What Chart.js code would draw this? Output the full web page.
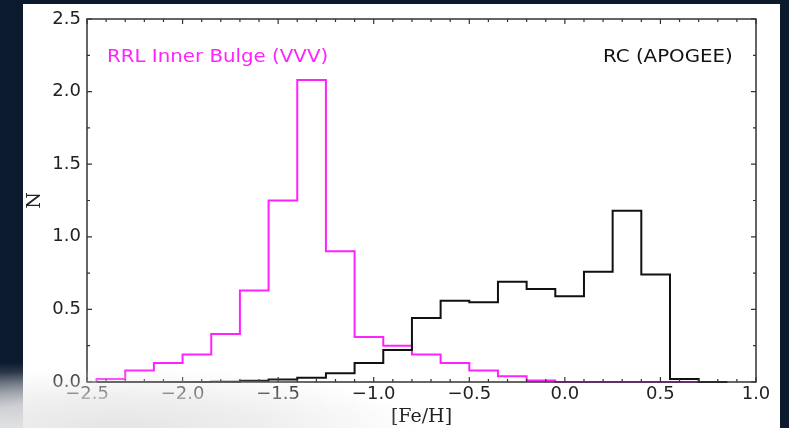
<!DOCTYPE html>
<html>
<head>
<meta charset="utf-8">
<script src="https://cdn.jsdelivr.net/npm/chart.js@4/dist/chart.umd.min.js"></script>
<style>
  html, body { margin: 0; padding: 0; }
  body { width: 789px; height: 428px; background: #0c1a2e; position: relative; overflow: hidden; }
  #strip { position: absolute; left: 0; top: 0; width: 23px; height: 428px;
    background: linear-gradient(to bottom, #0c1a2e 0px, #0c1a2e 362px, #cfd2d6 428px); }
  #panel { position: absolute; left: 23px; top: 4px; width: 757px; height: 424px; background: #ffffff; }
  #grafico { position: absolute; left: 0; top: 0; }
  #velo { position: absolute; left: 0; top: 300px; width: 500px; height: 128px; pointer-events: none;
    background: radial-gradient(ellipse 300px 60px at 120px 100%, rgba(226,226,226,0.9) 0%, rgba(232,232,232,0.7) 50%, rgba(255,255,255,0) 100%); }
</style>
</head>
<body>
<div id="strip"></div>
<div id="panel"></div>
<canvas id="grafico" width="789" height="428"></canvas>
<div id="velo"></div>
<script>
// Bordes de los bins de [Fe/H]
var bordesBins = [-2.45, -2.30, -2.15, -2.00, -1.85, -1.70, -1.55, -1.40, -1.25, -1.10, -0.95,
                  -0.80, -0.65, -0.50, -0.35, -0.20, -0.05, 0.10, 0.25, 0.40, 0.55, 0.70, 0.85];

// Valores de cada bin (histograma normalizado)
var rrlBulbo = [0.02, 0.08, 0.13, 0.19, 0.33, 0.63, 1.25, 2.08, 0.90, 0.31, 0.25,
                0.19, 0.13, 0.08, 0.04, 0.01, 0, 0, 0, 0, 0, 0];
var rcApogee = [0, 0, 0, 0, 0.002, 0.008, 0.017, 0.03, 0.06, 0.13, 0.22,
                0.44, 0.56, 0.55, 0.69, 0.64, 0.59, 0.76, 1.18, 0.74, 0.02, 0];

// Etiquetas de los ejes
var ticksX = [-2.5, -2.0, -1.5, -1.0, -0.5, 0.0, 0.5, 1.0];
var ticksY = [0.0, 0.5, 1.0, 1.5, 2.0, 2.5];

// Convierte un histograma en puntos escalonados
function escalones(valores) {
  var pts = [{ x: bordesBins[0], y: 0 }];
  for (var i = 0; i < valores.length; i++) {
    pts.push({ x: bordesBins[i], y: valores[i] });
  }
  pts.push({ x: bordesBins[bordesBins.length - 1], y: 0 });
  return pts;
}

function etiqueta(v) {
  return v.toFixed(1).replace('-', '\u2212');
}

// Marco, ticks hacia dentro y textos
var marcoPlugin = {
  id: 'marco',
  afterDraw: function (chart) {
    var ctx = chart.ctx;
    var a = chart.chartArea;
    var sx = chart.scales.x, sy = chart.scales.y;
    ctx.save();
    ctx.strokeStyle = '#333333';
    ctx.lineWidth = 1.5;
    ctx.strokeRect(a.left, a.top, a.right - a.left, a.bottom - a.top);
    ctx.lineWidth = 1.2;
    ctx.beginPath();
    for (var k = 0; k <= 35; k++) {
      var v = -2.5 + k * 0.1;
      var px = sx.getPixelForValue(v);
      var len = (k % 5 === 0) ? 5 : 3;
      ctx.moveTo(px, a.bottom); ctx.lineTo(px, a.bottom - len);
      ctx.moveTo(px, a.top); ctx.lineTo(px, a.top + len);
    }
    for (var j = 0; j <= 10; j++) {
      var w = j * 0.25;
      var py = sy.getPixelForValue(w);
      var l2 = (j % 2 === 0) ? 5 : 3;
      ctx.moveTo(a.left, py); ctx.lineTo(a.left + l2, py);
      ctx.moveTo(a.right, py); ctx.lineTo(a.right - l2, py);
    }
    ctx.stroke();

    // Textos de las series
    ctx.textBaseline = 'alphabetic';
    ctx.textAlign = 'left';
    ctx.font = '18px "DejaVu Sans"';
    ctx.fillStyle = '#ff22ff';
    ctx.save();
    ctx.translate(107, 62);
    ctx.scale(1.1, 1);
    ctx.fillText('RRL Inner Bulge (VVV)', 0, 0);
    ctx.restore();
    ctx.fillStyle = '#111111';
    ctx.save();
    ctx.translate(603, 62);
    ctx.scale(1.1, 1);
    ctx.fillText('RC (APOGEE)', 0, 0);
    ctx.restore();

    // Títulos de los ejes
    ctx.font = '19px "DejaVu Serif"';
    ctx.fillStyle = '#222222';
    ctx.textAlign = 'center';
    ctx.textBaseline = 'middle';
    ctx.fillText('[Fe/H]', (a.left + a.right) / 2, 417);
    ctx.save();
    ctx.translate(35, (a.top + a.bottom) / 2);
    ctx.rotate(-Math.PI / 2);
    ctx.fillText('N', 0, 0);
    ctx.restore();
    ctx.restore();
  }
};

var grafico = new Chart(document.getElementById('grafico').getContext('2d'), {
  type: 'line',
  data: {
    datasets: [{
      label: 'RC (APOGEE)',
      data: escalones(rcApogee),
      borderColor: '#111111',
      borderWidth: 2,
      stepped: 'before',
      pointRadius: 0,
      fill: false,
      clip: false
    }, {
      label: 'RRL Inner Bulge (VVV)',
      data: escalones(rrlBulbo),
      borderColor: '#ff22ff',
      borderWidth: 2,
      stepped: 'before',
      pointRadius: 0,
      fill: false,
      clip: false
    }]
  },
  options: {
    responsive: false,
    animation: false,
    devicePixelRatio: 1,
    layout: { padding: { left: 0, top: 19, right: 33, bottom: 0 } },
    plugins: { legend: { display: false }, tooltip: { enabled: false } },
    scales: {
      x: {
        type: 'linear',
        min: -2.5,
        max: 1.0,
        grid: { display: false, drawTicks: false },
        border: { display: false },
        afterBuildTicks: function (s) { s.ticks = ticksX.map(function (v) { return { value: v }; }); },
        afterFit: function (s) { s.height = 46; },
        ticks: {
          padding: 2,
          color: '#222222',
          font: { family: 'DejaVu Sans', size: 18 },
          maxRotation: 0,
          callback: function (v) { return etiqueta(v); }
        }
      },
      y: {
        type: 'linear',
        min: 0,
        max: 2.5,
        grid: { display: false, drawTicks: false },
        border: { display: false },
        afterBuildTicks: function (s) { s.ticks = ticksY.map(function (v) { return { value: v }; }); },
        afterFit: function (s) { s.width = 87; },
        ticks: {
          padding: 6,
          color: '#222222',
          font: { family: 'DejaVu Sans', size: 18 },
          callback: function (v) { return etiqueta(v); }
        }
      }
    }
  },
  plugins: [marcoPlugin]
});
</script>
</body>
</html>
